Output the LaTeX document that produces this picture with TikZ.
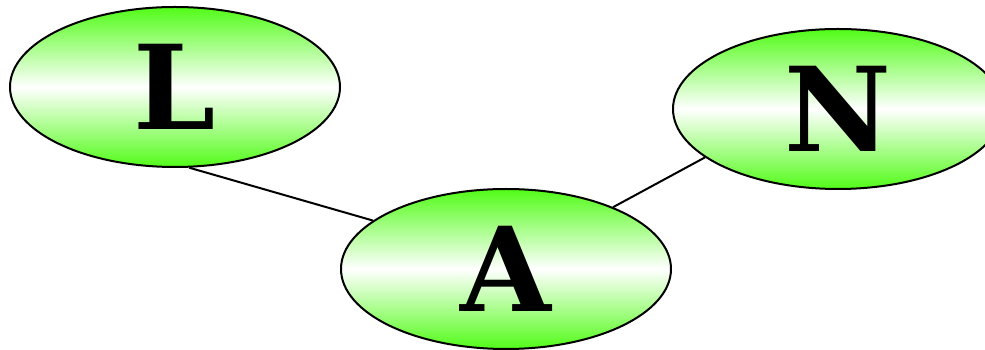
\documentclass[tikz,border=0pt]{standalone}
\usepackage{fontspec}
\setmainfont{DejaVu Serif}
\usetikzlibrary{shapes.geometric}
\definecolor{leafgreen}{RGB}{82,252,24}
\tikzset{
  vertex/.style={ellipse, draw=black, line width=2pt,
    minimum width=330pt, minimum height=160pt, inner sep=0pt,
    top color=leafgreen, bottom color=leafgreen, middle color=white,
    font=\fontsize{117}{117}\selectfont\bfseries},
  link/.style={draw=black, line width=2pt}
}
\begin{document}
\begin{tikzpicture}[x=1pt,y=1pt]
  \useasboundingbox (0,0) rectangle (985,350);
  \node[vertex] (L) at (175,263) {L};
  \node[vertex] (A) at (506,81) {A};
  \node[vertex] (N) at (838,241) {N};
  \draw[link] (L.-80) -- (A.160.6);
  \draw[link] (A.30.9) -- (N.-160.4);
\end{tikzpicture}
\end{document}
